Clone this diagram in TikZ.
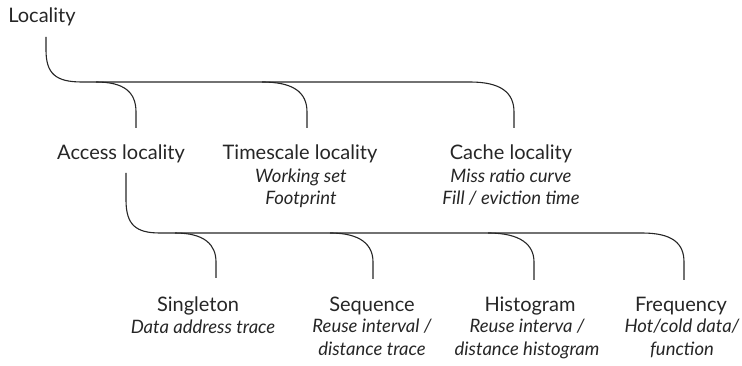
\documentclass[tikz,border=0pt]{standalone}
\usepackage{fontspec}
\setmainfont{Lato}
\usetikzlibrary{positioning, calc}

\begin{document}
\begin{tikzpicture}[x=1pt, y=-1pt,
    branch/.style={line width=1.1pt, black!85},
    head/.style={font=\fontsize{20}{22}\selectfont, text=black!85, inner sep=0pt, anchor=base},
    sub/.style={font=\fontsize{18.5}{22.3}\selectfont\itshape, text=black!85, inner sep=0pt, anchor=base, align=center}]
  \useasboundingbox (0,0) rectangle (742,366);

  % Top level (sub nodes sit on their last baseline)
  \node[head] (loc) at (42,23) {Locality};
  \node[head] (acc) at (121,160) {Access locality};
  \node[head] (tim) at (300,160) {Timescale locality};
  \node[sub]  (timsub) at (301,205) {Working set\\Footprint};
  \node[head] (cac) at (511,160) {Cache locality};
  \node[sub]  (cacsub) at (511,205) {Miss ratio curve\\Fill / eviction time};

  % Access locality kinds
  \node[head] (sin) at (198,312) {Singleton};
  \node[sub]  (sinsub) at (203,333) {Data address trace};
  \node[head] (seq) at (372,312) {Sequence};
  \node[sub]  (seqsub) at (372,355) {Reuse interval /\\distance trace};
  \node[head] (his) at (530,312) {Histogram};
  \node[sub]  (hissub) at (527,355) {Reuse interva /\\distance histogram};
  \node[head] (fre) at (681,312) {Frequency};
  \node[sub]  (fresub) at (682,355) {Hot/cold data/\\function};

  % Connector ends
  \coordinate (loc-out) at (46,37);
  \coordinate (acc-in) at (136,128);
  \coordinate (tim-in) at (307,128);
  \coordinate (cac-in) at (514,128);
  \coordinate (acc-fork) at (96,82);
  \coordinate (tim-fork) at (262,82);
  \coordinate (acc-out) at (126,173);
  \coordinate (sin-in) at (216,278);
  \coordinate (seq-in) at (373,279);
  \coordinate (his-in) at (534,280);
  \coordinate (fre-in) at (684,280);
  \coordinate (sin-fork) at (175,233);
  \coordinate (seq-fork) at (330,233);
  \coordinate (his-fork) at (488,233);

  % First split
  \draw[branch] (loc-out) -- (46,50) .. controls (46,74) and (56,82) .. (82,82)
    -- (470,82) .. controls (500,82) and (514,92) .. (514,112) -- (cac-in);
  \draw[branch] (acc-fork) .. controls (124,82) and (136,92) .. (136,112) -- (acc-in);
  \draw[branch] (tim-fork) .. controls (293,82) and (307,92) .. (307,112) -- (tim-in);

  % Second split
  \draw[branch] (acc-out) -- (126,200) .. controls (126,225) and (136,233) .. (160,233)
    -- (642,233) .. controls (672,233) and (684,243) .. (684,262) -- (fre-in);
  \draw[branch] (sin-fork) .. controls (205,233) and (216,245) .. (216,262) -- (sin-in);
  \draw[branch] (seq-fork) .. controls (361,233) and (373,245) .. (373,262) -- (seq-in);
  \draw[branch] (his-fork) .. controls (521,233) and (534,245) .. (534,262) -- (his-in);
\end{tikzpicture}
\end{document}
